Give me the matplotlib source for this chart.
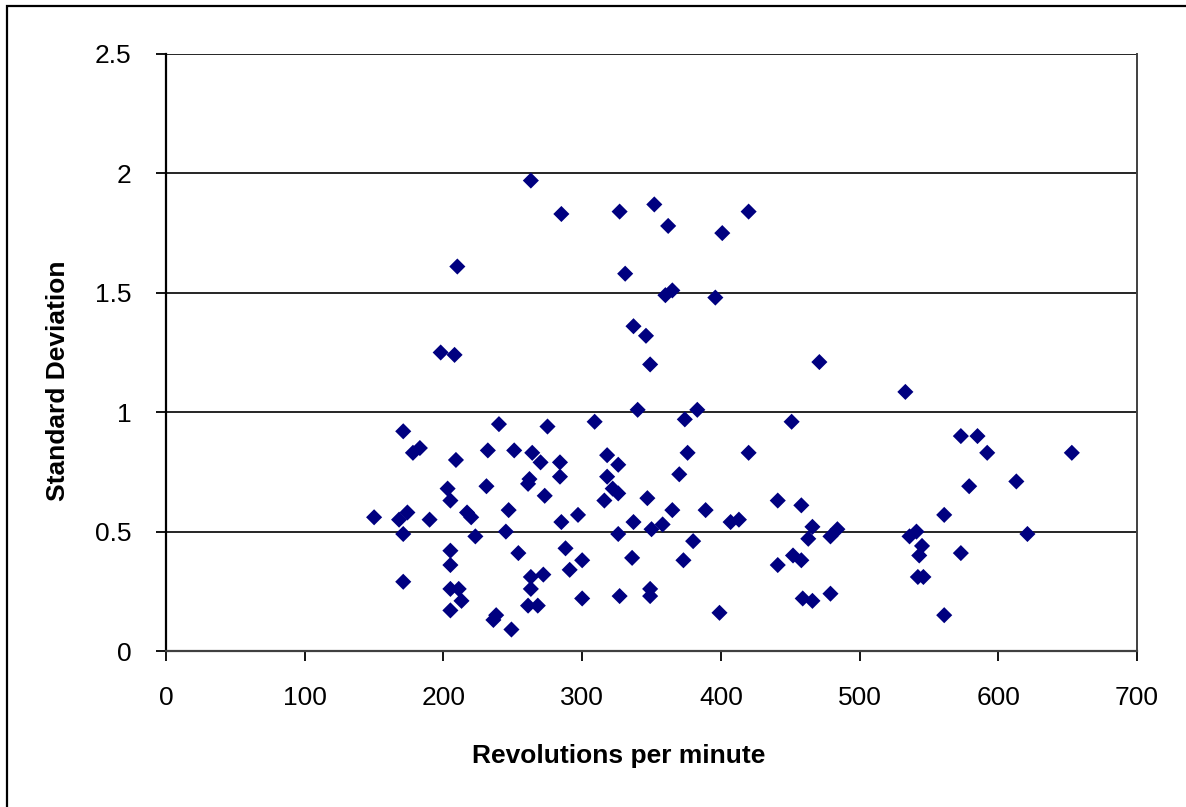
import matplotlib
matplotlib.use("Agg")
import matplotlib.pyplot as plt
from matplotlib.patches import Rectangle

plt.rcParams["font.family"] = ["Liberation Sans", "DejaVu Sans"]

# Speed (rpm) and standard deviation of each run
rpm = [
    150, 171, 178, 183, 168, 174, 171, 190, 171,
    198, 208, 210,
    203, 205, 209, 205, 205, 205, 211, 213, 205,
    217, 220, 223, 231, 232, 240, 238, 236,
    247, 245, 251, 249, 254,
    263, 264, 262, 261, 263, 263, 261, 268, 272, 270, 273, 275,
    284, 284, 285, 285, 288, 291, 297, 300, 300,
    309, 316, 318, 318, 322, 326, 326, 327, 326, 327,
    331, 336, 337, 337, 340, 346, 347, 349, 349, 349,
    352, 350, 358, 362, 360, 365, 365, 370, 374, 373, 376, 380, 383, 389,
    396, 401, 399, 407, 413, 420, 420,
    441, 441, 451, 452, 458, 458, 459, 463, 466, 466, 471, 479, 484, 479,
    533, 573, 585, 592, 653, 613, 579, 561, 536, 541, 621, 545, 543, 573, 542, 546, 561,
]
std_dev = [
    0.56, 0.92, 0.83, 0.85, 0.55, 0.58, 0.49, 0.55, 0.29,
    1.25, 1.24, 1.61,
    0.68, 0.63, 0.80, 0.42, 0.36, 0.26, 0.26, 0.21, 0.17,
    0.58, 0.56, 0.48, 0.69, 0.84, 0.95, 0.15, 0.13,
    0.59, 0.50, 0.84, 0.09, 0.41,
    1.97, 0.83, 0.72, 0.70, 0.31, 0.26, 0.19, 0.19, 0.32, 0.79, 0.65, 0.94,
    0.79, 0.73, 1.83, 0.54, 0.43, 0.34, 0.57, 0.38, 0.22,
    0.96, 0.63, 0.82, 0.73, 0.68, 0.66, 0.78, 1.84, 0.49, 0.23,
    1.58, 0.39, 1.36, 0.54, 1.01, 1.32, 0.64, 1.20, 0.26, 0.23,
    1.87, 0.51, 0.53, 1.78, 1.49, 1.51, 0.59, 0.74, 0.97, 0.38, 0.83, 0.46, 1.01, 0.59,
    1.48, 1.75, 0.16, 0.54, 0.55, 1.84, 0.83,
    0.63, 0.36, 0.96, 0.40, 0.61, 0.38, 0.22, 0.47, 0.52, 0.21, 1.21, 0.48, 0.51, 0.24,
    1.085, 0.90, 0.90, 0.83, 0.83, 0.71, 0.69, 0.57, 0.48, 0.50, 0.49, 0.44, 0.40, 0.41, 0.31, 0.31, 0.15,
]

x_ticks = [0, 100, 200, 300, 400, 500, 600, 700]
y_ticks = [0, 0.5, 1, 1.5, 2, 2.5]
y_tick_labels = ["0", "0.5", "1", "1.5", "2", "2.5"]

fig = plt.figure(figsize=(11.86, 8.07), dpi=100)
ax = fig.add_axes([0.140, 0.1933, 0.8187, 0.7398])

# chart area frame (top and left edges)
fig.patches.append(Rectangle((7 / 1186, -0.1), 1.2, 1 - 6 / 807 + 0.1,
                             transform=fig.transFigure, fill=False,
                             edgecolor="black", linewidth=1.6))

ax.scatter(rpm, std_dev, marker="D", s=8.2 ** 2, color="#000080",
           edgecolors="none", zorder=3, clip_on=False)

ax.set_xlim(0, 700)
ax.set_ylim(0, 2.5)
ax.set_xticks(x_ticks)
ax.set_yticks(y_ticks)
ax.set_yticklabels(y_tick_labels)

ax.yaxis.grid(True, color="black", linewidth=1.2)
ax.set_axisbelow(True)

ax.spines["top"].set_visible(False)
ax.spines["left"].set_color("black")
ax.spines["left"].set_linewidth(1.6)
ax.spines["bottom"].set_color("#404040")
ax.spines["bottom"].set_linewidth(1.6)
ax.spines["right"].set_color("#404040")
ax.spines["right"].set_linewidth(1.4)

ax.tick_params(axis="both", direction="out", length=7, width=1.3,
               labelsize=19, colors="black")
ax.tick_params(axis="x", pad=18)
ax.tick_params(axis="y", pad=18)

ax.set_xlabel("Revolutions per minute", fontsize=19, fontweight="bold", labelpad=24)
ax.set_ylabel("Standard Deviation", fontsize=19, fontweight="bold", labelpad=18)
ax.xaxis.set_label_coords(0.4665, -0.155)
ax.yaxis.label.set_y(0.452)

fig.savefig("out.png", dpi=100)
